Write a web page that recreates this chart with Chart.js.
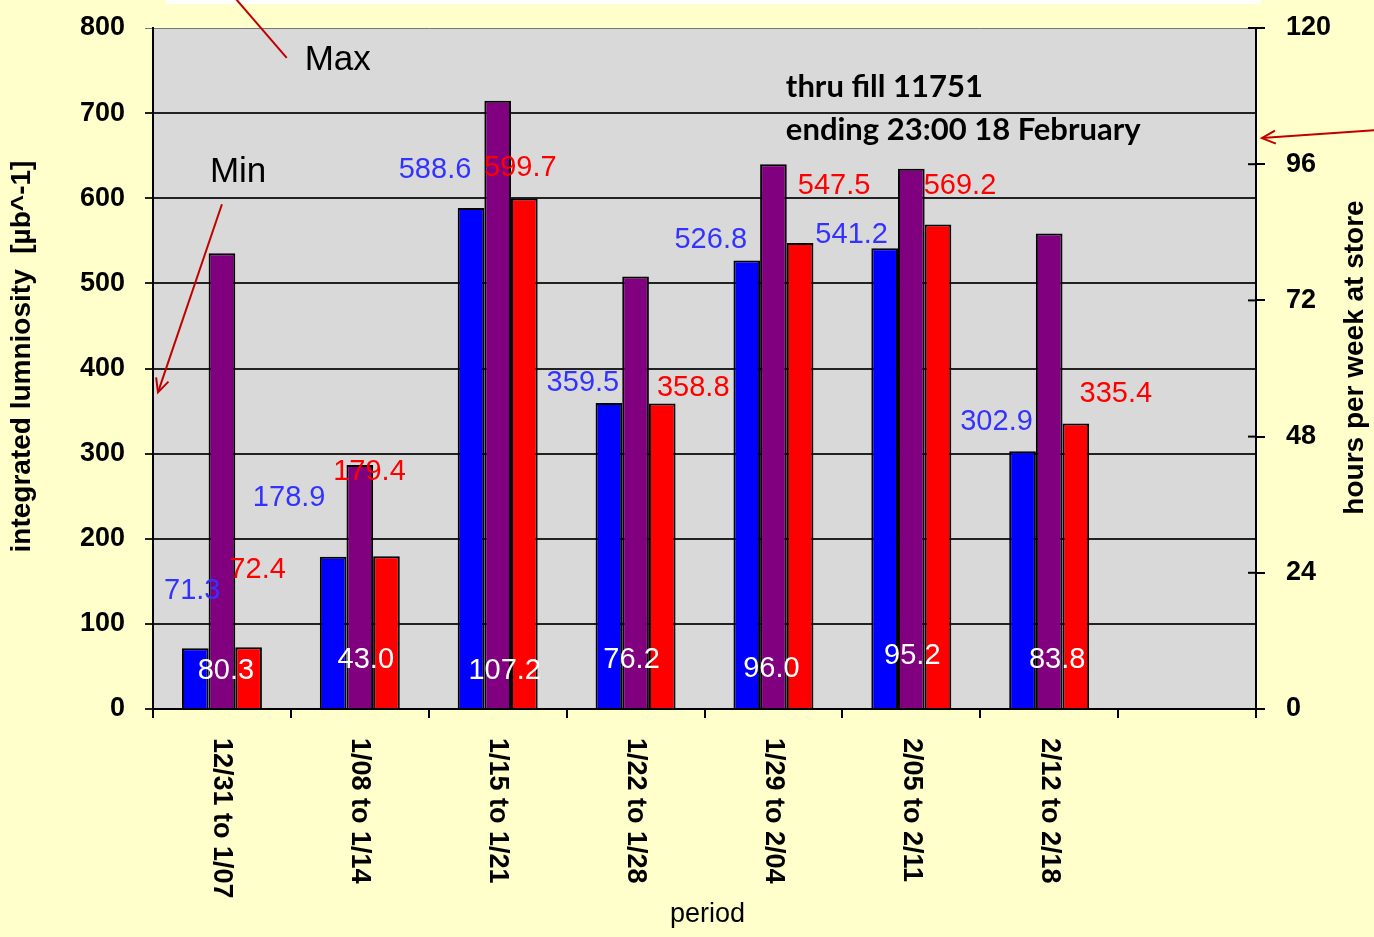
<!DOCTYPE html>
<html>
<head>
<meta charset="utf-8">
<script src="https://cdn.jsdelivr.net/npm/chart.js@4.4.0/dist/chart.umd.min.js"></script>
<style>
html, body { margin: 0; padding: 0; background: #FFFFCC; }
canvas { display: block; }
</style>
</head>
<body>
<canvas id="lumiChart" width="1374" height="937"></canvas>
<script>
// weekly periods (last slot is left empty, as in the slide)
var periods = ['12/31 to 1/07', '1/08 to 1/14', '1/15 to 1/21', '1/22 to 1/28',
               '1/29 to 2/04', '2/05 to 2/11', '2/12 to 2/18', ''];

// integrated luminosity, left axis
var lumiBlue = [71.3, 178.9, 588.6, 359.5, 526.8, 541.2, 302.9, null];
var lumiRed  = [72.4, 179.4, 599.7, 358.8, 547.5, 569.2, 335.4, null];
// hours per week at store, right axis
var hoursStore = [80.3, 43.0, 107.2, 76.2, 96.0, 95.2, 83.8, null];

var leftTicks  = [0, 100, 200, 300, 400, 500, 600, 700, 800];
var rightTicks = [0, 24, 48, 72, 96, 120];

// hand-dragged label nudges (px from bar top / base)
var blueNudge   = [[-3, -57], [-44, -59], [-36, -38], [-26, -20], [-36, -21], [-33, -13], [-26, -29]];
var redNudge    = [[9, -77], [-17, -84], [-4, -31], [31, -16], [34, -57], [22, -38], [40, -29]];
var purpleNudge = [[4, -37], [6, -48], [7, -37], [-4, -48], [-2, -39], [1, -52], [8, -48]];

var FONT = '"Liberation Sans", Arial, sans-serif';
var ARROW_RED = '#C00000';

function arrowLine(ctx, x1, y1, x2, y2, head) {
    ctx.beginPath();
    ctx.moveTo(x1, y1);
    ctx.lineTo(x2, y2);
    ctx.stroke();
    if (head) {
        var a = Math.atan2(y2 - y1, x2 - x1);
        var len = 15, spread = 0.45;
        ctx.beginPath();
        ctx.moveTo(x2 - len * Math.cos(a - spread), y2 - len * Math.sin(a - spread));
        ctx.lineTo(x2, y2);
        ctx.lineTo(x2 - len * Math.cos(a + spread), y2 - len * Math.sin(a + spread));
        ctx.stroke();
    }
}

// keep the plot box fixed: no extra room for the top/bottom tick labels
function fixVertical(width) {
    return function (scale) {
        scale.width = width;
        scale.paddingTop = 0;
        scale.paddingBottom = 0;
    };
}

var decorPlugin = {
    id: 'decor',
    beforeDraw: function (chart) {
        var ctx = chart.ctx, area = chart.chartArea;
        ctx.save();
        ctx.fillStyle = '#FFFFCC';
        ctx.fillRect(0, 0, chart.width, chart.height);
        ctx.fillStyle = '#FFFFFF';
        ctx.fillRect(area.left + 13, 0, area.right - area.left - 8, 4);
        ctx.fillStyle = '#D9D9D9';
        ctx.fillRect(area.left, area.top, area.right - area.left, area.bottom - area.top);
        ctx.restore();
    },
    afterDatasetsDraw: function (chart) {
        var ctx = chart.ctx;
        ctx.save();
        ctx.font = '29px ' + FONT;
        ctx.textAlign = 'center';
        ctx.textBaseline = 'middle';

        chart.getDatasetMeta(0).data.forEach(function (bar, i) {
            if (lumiBlue[i] == null) return;
            ctx.fillStyle = '#3333FF';
            ctx.fillText(lumiBlue[i].toFixed(1), bar.x + blueNudge[i][0], bar.y + blueNudge[i][1]);
        });
        chart.getDatasetMeta(2).data.forEach(function (bar, i) {
            if (lumiRed[i] == null) return;
            ctx.fillStyle = '#FF0000';
            ctx.fillText(lumiRed[i].toFixed(1), bar.x + redNudge[i][0], bar.y + redNudge[i][1]);
        });
        chart.getDatasetMeta(1).data.forEach(function (bar, i) {
            if (hoursStore[i] == null) return;
            ctx.fillStyle = '#FFFFFF';
            ctx.fillText(hoursStore[i].toFixed(1), bar.x + purpleNudge[i][0], bar.base + purpleNudge[i][1]);
        });
        ctx.restore();
    },
    afterDraw: function (chart) {
        var ctx = chart.ctx, area = chart.chartArea;
        var xs = chart.scales.x, y = chart.scales.y, y2 = chart.scales.y2;
        ctx.save();

        // right axis ticks also cross inward
        ctx.strokeStyle = '#000';
        ctx.lineWidth = 2;
        rightTicks.forEach(function (t) {
            var py = y2.getPixelForValue(t);
            ctx.beginPath();
            ctx.moveTo(area.right - 8, py);
            ctx.lineTo(area.right, py);
            ctx.stroke();
        });

        // category labels, rotated clockwise
        ctx.fillStyle = '#000';
        ctx.font = 'bold 27px ' + FONT;
        ctx.textAlign = 'left';
        ctx.textBaseline = 'middle';
        periods.forEach(function (p, i) {
            if (!p) return;
            ctx.save();
            ctx.translate(xs.getPixelForValue(i), xs.top + 29);
            ctx.rotate(Math.PI / 2);
            ctx.fillText(p, 0, 0);
            ctx.restore();
        });

        // axis titles
        ctx.textAlign = 'center';
        ctx.font = '27px ' + FONT;
        ctx.fillText('period', (area.left + area.right) / 2 + 3, xs.top + 206);

        ctx.font = 'bold 28px ' + FONT;
        ctx.save();
        ctx.translate(22, (area.top + area.bottom) / 2 - 12);
        ctx.rotate(-Math.PI / 2);
        ctx.fillText('integrated lumniosity  [\u00b5b^-1]', 0, 0);
        ctx.restore();
        ctx.save();
        ctx.translate(1355, (area.top + area.bottom) / 2 - 11);
        ctx.rotate(-Math.PI / 2);
        ctx.fillText('hours per week at store', 0, 0);
        ctx.restore();

        // annotations, placed in axis units
        ctx.textAlign = 'left';
        ctx.font = '35px ' + FONT;
        ctx.fillText('Max', xs.getPixelForValue(0.6), y.getPixelForValue(762));
        ctx.fillText('Min', xs.getPixelForValue(-0.087), y.getPixelForValue(631));

        ctx.font = 'bold 31px Lato, "Open Sans", sans-serif';
        ctx.fillText('thru fill 11751', xs.getPixelForValue(4.09), y.getPixelForValue(731));
        ctx.fillText('ending 23:00 18 February', xs.getPixelForValue(4.09), y.getPixelForValue(680));

        ctx.strokeStyle = ARROW_RED;
        ctx.lineWidth = 2;
        arrowLine(ctx, xs.getPixelForValue(0.47), y.getPixelForValue(765),
                  xs.getPixelForValue(0.07), y.getPixelForValue(840), false);
        arrowLine(ctx, xs.getPixelForValue(0.0), y.getPixelForValue(593),
                  xs.getPixelForValue(-0.464), y.getPixelForValue(372), true);
        arrowLine(ctx, xs.getPixelForValue(8.36), y2.getPixelForValue(102),
                  xs.getPixelForValue(7.543), y2.getPixelForValue(100.6), true);

        ctx.restore();
    }
};

var ctx = document.getElementById('lumiChart').getContext('2d');

var myBarChart = new Chart(ctx, {
    type: 'bar',
    data: {
        labels: periods,
        datasets: [
            { data: lumiBlue, yAxisID: 'y', backgroundColor: '#0000FF' },
            { data: hoursStore, yAxisID: 'y2', backgroundColor: '#800080' },
            { data: lumiRed, yAxisID: 'y', backgroundColor: '#FF0000' }
        ]
    },
    options: {
        responsive: false,
        animation: false,
        layout: { padding: { top: 28, left: 0, right: 0, bottom: 0 } },
        datasets: {
            bar: {
                borderColor: '#000',
                borderWidth: 2,
                categoryPercentage: 0.58,
                barPercentage: 1.0
            }
        },
        plugins: {
            legend: { display: false },
            tooltip: { enabled: false }
        },
        scales: {
            x: {
                ticks: { display: false },
                grid: {
                    offset: true,
                    drawOnChartArea: false,
                    tickLength: 9,
                    color: '#000',
                    lineWidth: 2
                },
                border: { color: '#000', width: 2 },
                afterFit: function (scale) { scale.height = 228; }
            },
            y: {
                position: 'left',
                min: 0,
                max: 800,
                afterBuildTicks: function (scale) {
                    scale.ticks = leftTicks.map(function (v) { return { value: v }; });
                },
                ticks: {
                    color: '#000',
                    padding: 20,
                    font: { family: FONT, size: 27, weight: 'bold' }
                },
                grid: {
                    color: function (c) { return c.tick && c.tick.value === 800 ? '#777' : '#222'; },
                    lineWidth: function (c) { return c.tick && c.tick.value === 800 ? 1 : 2; },
                    tickLength: 8
                },
                border: { color: '#000', width: 2 },
                afterFit: fixVertical(153)
            },
            y2: {
                position: 'right',
                min: 0,
                max: 120,
                afterBuildTicks: function (scale) {
                    scale.ticks = rightTicks.map(function (v) { return { value: v }; });
                },
                ticks: {
                    color: '#000',
                    padding: 21,
                    font: { family: FONT, size: 27, weight: 'bold' }
                },
                grid: {
                    drawOnChartArea: false,
                    color: '#000',
                    lineWidth: 2,
                    tickLength: 9
                },
                border: { color: '#000', width: 2 },
                afterFit: fixVertical(118)
            }
        }
    },
    plugins: [decorPlugin]
});
</script>
</body>
</html>
